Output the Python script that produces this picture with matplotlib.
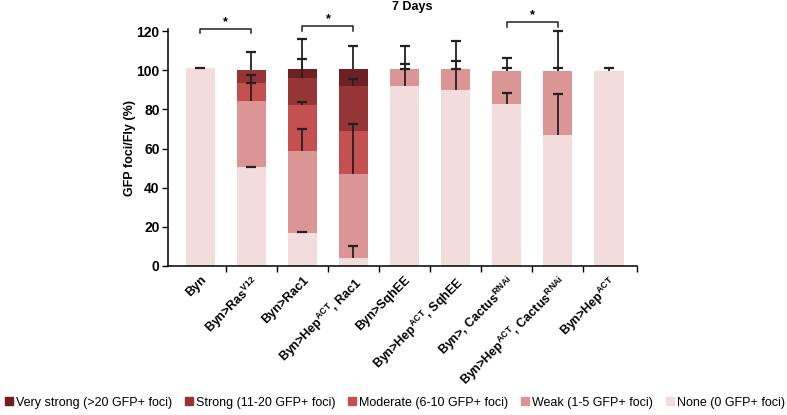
import numpy as np
import matplotlib
matplotlib.use("Agg")
import matplotlib.pyplot as plt
from matplotlib.patches import Patch

plt.rcParams['font.family'] = ['Liberation Sans', 'DejaVu Sans']
plt.rcParams['mathtext.fontset'] = 'custom'
plt.rcParams['mathtext.rm'] = 'Liberation Sans'
plt.rcParams['mathtext.bf'] = 'Liberation Sans:bold'

#%% data
labels = ["Byn", r"Byn>Ras$^{\mathbf{V12}}$", "Byn>Rac1", r"Byn>Hep$^{\mathbf{ACT}}$, Rac1",
          "Byn>SqhEE", r"Byn>Hep$^{\mathbf{ACT}}$, SqhEE", r"Byn>, Cactus$^{\mathbf{RNAi}}$",
          r"Byn>Hep$^{\mathbf{ACT}}$, Cactus$^{\mathbf{RNAi}}$", r"Byn>Hep$^{\mathbf{ACT}}$"]

none_v = [101.0, 50.4, 16.8, 3.7, 92.0, 90.1, 82.6, 67.0, 99.7]
weak_v = [0, 33.9, 41.7, 43.0, 8.7, 10.6, 17.1, 32.7, 0]
moderate_v = [0, 9.4, 23.9, 22.5, 0, 0, 0, 0, 0]
strong_v = [0, 6.7, 13.8, 22.8, 0, 0, 0, 0, 0]
vstrong_v = [0, 0, 4.5, 8.7, 0, 0, 0, 0, 0]

# upper error (SD) per segment
none_e = [0.3, 0.3, 0.3, 6.2, 11.4, 14.7, 5.6, 20.7, 1.7]
weak_e = [0, 9.2, 11.6, 25.8, 11.6, 14.2, 6.6, 20.7, 0]
moderate_e = [0, 4.2, 1.3, 3.3, 0.1, 0.1, 1.5, 1.7, 0]
strong_e = [0, 8.8, 9.8, 3.5, 0, 0, 0, 0, 0]
vstrong_e = [0, 0, 15.2, 11.6, 0, 0, 0, 0, 0]

names = ["None (0 GFP+ foci)", "Weak (1-5 GFP+ foci)", "Moderate (6-10 GFP+ foci)",
         "Strong (11-20 GFP+ foci)", "Very strong (>20 GFP+ foci)"]
colors = ["#f2dcdc", "#da9594", "#c4504f", "#953536", "#6e2023"]

# significance: (bar a, bar b, height)
sig = [(0, 1, 121.4), (2, 3, 122.6), (6, 7, 124.6)]

#%% plot
fig = plt.figure(figsize=(7.87, 4.15), dpi=100)
ax = fig.add_axes([0.2135, 0.360, 0.596, 0.569])

x = np.arange(len(labels))
segs = [none_v, weak_v, moderate_v, strong_v, vstrong_v]
errs = [none_e, weak_e, moderate_e, strong_e, vstrong_e]

bottom = np.zeros(len(x))
for vals, c in zip(segs, colors):
    vals = np.array(vals, float)
    ax.bar(x, vals, 0.57, bottom=bottom, color=c, zorder=1)
    bottom = bottom + vals

# one-sided (upper) error bars at the top of each segment
bottom = np.zeros(len(x))
for vals, errv in zip(segs, errs):
    top = bottom + np.array(vals, float)
    e = np.array(errv, float)
    m = e > 0
    ax.vlines(x[m], top[m], top[m] + e[m], color="#222222", lw=1.3, zorder=3)
    ax.plot(x[m], top[m] + e[m], marker="_", ms=7, mew=1.6, ls="none", color="#222222", zorder=3)
    bottom = top

# significance brackets
for a, b, h in sig:
    ax.plot([a, a, b, b], [h - 2.2, h, h, h - 2.2], color="#222222", lw=1.1, clip_on=False)
    ax.text((a + b) / 2, h + 0.5, "*", ha="center", va="bottom", fontsize=9, fontweight="bold", clip_on=False)

ax.set_xlim(-0.63, 8.55)
ax.set_ylim(0, 121)
ax.set_yticks([0, 20, 40, 60, 80, 100, 120])
ax.set_yticklabels(["0", "20", "40", "60", "80", "100", "120"], fontweight="bold", fontsize=10)
ax.set_xticks(x)
ax.set_xticklabels(labels, rotation=45, ha="right", rotation_mode="anchor", fontweight="bold", fontsize=9)
ax.tick_params(axis="x", length=0, pad=6)
ax.set_xticks(list(x[:-1] + 0.5) + [8.55], minor=True)
ax.tick_params(axis="x", which="minor", length=4, width=1, direction="out")
ax.tick_params(axis="y", length=4, width=1, direction="out", pad=2)
for s in ["top", "right"]:
    ax.spines[s].set_visible(False)
for s in ["left", "bottom"]:
    ax.spines[s].set_linewidth(1.1)
ax.set_ylabel("GFP foci/Fly (%)", fontweight="bold", fontsize=9, labelpad=0)
ax.set_title("7 Days", fontweight="bold", fontsize=9, pad=14, x=0.52)

handles = [Patch(color=c, label=n) for c, n in zip(colors[::-1], names[::-1])]
fig.legend(handles=handles, ncol=5, loc="center left", bbox_to_anchor=(0.0, 0.03),
           frameon=False, fontsize=9, handlelength=0.65, handleheight=0.65,
           handletextpad=0.25, columnspacing=1.0, borderaxespad=0)

plt.savefig("out.png", dpi=100)
